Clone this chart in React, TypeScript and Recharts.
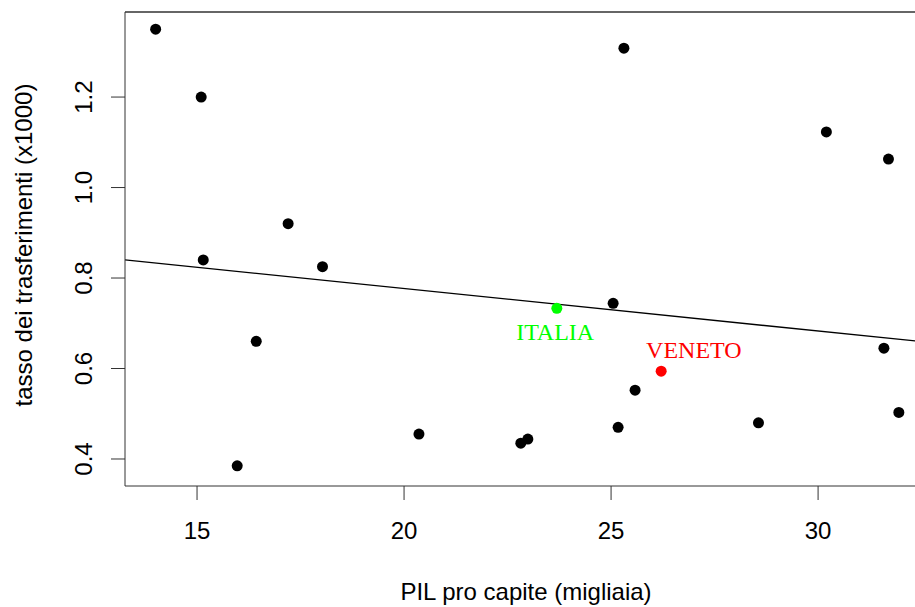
import React from 'react';
import { ScatterChart, Scatter, XAxis, YAxis, ReferenceLine } from 'recharts';

// regions: GDP per capita (thousands) vs transfer rate (x1000)
const gdp = [14.0, 15.1, 15.15, 17.2, 18.03, 16.43, 15.97, 20.36, 22.82, 22.99, 25.05, 25.31, 25.17, 25.58, 28.56, 30.2, 31.7, 31.59, 31.95];
const rate = [1.35, 1.2, 0.84, 0.92, 0.825, 0.66, 0.385, 0.455, 0.435, 0.444, 0.744, 1.308, 0.47, 0.552, 0.48, 1.123, 1.063, 0.645, 0.503];

const italia = [{ x: 23.69, y: 0.733 }];
const veneto = [{ x: 26.21, y: 0.594 }];

// text labels placed in data coordinates, like R's text()
const italiaLabel = [{ x: 23.65, y: 0.663, text: 'ITALIA' }];
const venetoLabel = [{ x: 27.0, y: 0.623, text: 'VENETO' }];

// fitted regression line (abline) end points
const fitLine = [{ x: 13.26, y: 0.84 }, { x: 33.5, y: 0.65 }];

const xTicks = [15, 20, 25, 30];
const yTicks = [0.4, 0.6, 0.8, 1.0, 1.2];

const xDomain = [13.26, 33.5];
const yDomain = [0.3403, 1.388];

const points = gdp.map((x, i) => ({ x, y: rate[i] }));

const sans = '"Liberation Sans", Arial, sans-serif';
const serif = '"Liberation Serif", "Times New Roman", serif';

const dot = (color: string) => (props: any) => (
  <circle cx={props.cx} cy={props.cy} r={5.5} fill={color} />
);

const label = (color: string) => (props: any) => (
  <text x={props.cx} y={props.cy} textAnchor="middle" fill={color} fontFamily={serif} fontSize={24}>
    {props.payload.text}
  </text>
);

const YTick = (props: any) => (
  <text
    transform={`translate(92, ${props.y}) rotate(-90)`}
    textAnchor="middle"
    fill="#000"
    fontFamily={sans}
    fontSize={24}
  >
    {props.payload.value.toFixed(1)}
  </text>
);

export default function App() {
  return (
    <div style={{ position: 'absolute', left: 0, top: 0, width: 915, height: 607, overflow: 'hidden', background: '#fff' }}>
      <ScatterChart width={1000} height={607} margin={{ top: 12, right: 37, bottom: 0, left: 0 }}>
        <XAxis
          type="number"
          dataKey="x"
          domain={xDomain}
          allowDataOverflow
          ticks={xTicks}
          height={121}
          tickSize={14}
          tickMargin={22}
          stroke="#333"
          tick={{ fill: '#000', fontSize: 24, fontFamily: sans }}
          label={{
            content: () => (
              <text x={526} y={600} textAnchor="middle" fill="#000" fontFamily={sans} fontSize={24}>
                PIL pro capite (migliaia)
              </text>
            ),
          }}
        />
        <YAxis
          type="number"
          dataKey="y"
          domain={yDomain}
          allowDataOverflow
          ticks={yTicks}
          width={125}
          tickSize={14}
          stroke="#333"
          tick={<YTick />}
          label={{
            content: () => (
              <text
                transform="translate(32, 245) rotate(-90)"
                textAnchor="middle"
                fill="#000"
                fontFamily={sans}
                fontSize={24}
              >
                tasso dei trasferimenti (x1000)
              </text>
            ),
          }}
        />
        {/* top side of the plot box */}
        <ReferenceLine y={yDomain[1]} stroke="#333" strokeWidth={1.3} ifOverflow="visible" />
        <ReferenceLine segment={fitLine} stroke="#000" strokeWidth={1.3} ifOverflow="visible" />
        <Scatter data={points} shape={dot('#000')} isAnimationActive={false} />
        <Scatter data={italia} shape={dot('#00ff00')} isAnimationActive={false} />
        <Scatter data={veneto} shape={dot('#ff0000')} isAnimationActive={false} />
        <Scatter data={italiaLabel} shape={label('#00ff00')} isAnimationActive={false} />
        <Scatter data={venetoLabel} shape={label('#ff0000')} isAnimationActive={false} />
      </ScatterChart>
    </div>
  );
}
